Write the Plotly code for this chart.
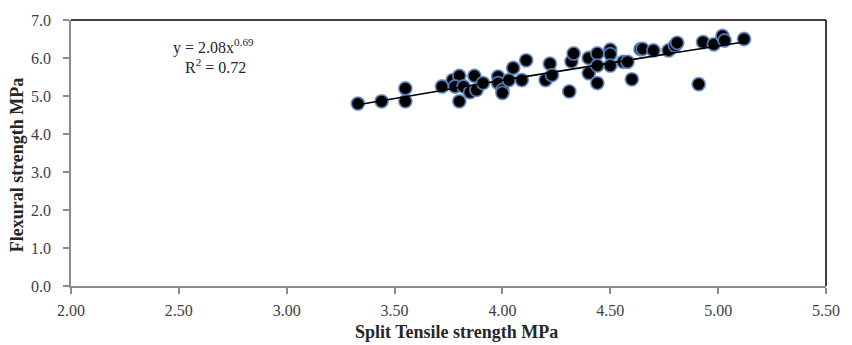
import plotly.graph_objects as go
import numpy as np

split_tensile = [3.33, 3.44, 3.55, 3.55, 3.72, 3.77, 3.80, 3.78, 3.80, 3.82, 3.85, 3.87, 3.88, 3.91,
                 3.98, 3.98, 4.00, 4.00, 4.03, 4.05, 4.09, 4.11, 4.20, 4.22, 4.23, 4.31, 4.32, 4.33,
                 4.40, 4.40, 4.44, 4.44, 4.44, 4.50, 4.50, 4.50, 4.56, 4.58, 4.60, 4.64, 4.65, 4.70,
                 4.77, 4.80, 4.81, 4.91, 4.93, 4.98, 5.02, 5.03, 5.12]
flexural = [4.80, 4.86, 5.20, 4.86, 5.25, 5.42, 5.53, 5.25, 4.86, 5.25, 5.10, 5.53, 5.16, 5.34,
            5.51, 5.34, 5.16, 5.08, 5.42, 5.74, 5.42, 5.94, 5.42, 5.85, 5.55, 5.12, 5.91, 6.12,
            6.00, 5.60, 5.34, 6.12, 5.80, 6.22, 6.10, 5.80, 5.90, 5.90, 5.44, 6.23, 6.24, 6.20,
            6.20, 6.33, 6.40, 5.31, 6.42, 6.36, 6.58, 6.46, 6.50]

# Power trendline y = a * x^b as shown on the chart
trend_a = 2.08
trend_b = 0.69
eq_text = "y = 2.08x<sup>0.69</sup>"
r2_text = "R<sup>2</sup> = 0.72"
x_title = "<b>Split Tensile strength MPa</b>"
y_title = "<b>Flexural strength MPa</b>"

x_ticks = [2.0, 2.5, 3.0, 3.5, 4.0, 4.5, 5.0, 5.5]
y_ticks = [0, 1, 2, 3, 4, 5, 6, 7]

tx = np.linspace(min(split_tensile), max(split_tensile), 100)
ty = trend_a * tx ** trend_b

serif = "Liberation Serif"

fig = go.Figure()
fig.add_trace(go.Scatter(
    x=split_tensile, y=flexural, mode="markers",
    marker=dict(size=13, color="black", line=dict(color="rgba(95,135,195,0.85)", width=1.8)),
    showlegend=False, hoverinfo="skip"))
fig.add_trace(go.Scatter(
    x=tx, y=ty, mode="lines", line=dict(color="black", width=1.6),
    showlegend=False, hoverinfo="skip"))

fig.update_layout(
    width=852, height=345,
    margin=dict(l=71, r=14, t=16, b=59),
    paper_bgcolor="white", plot_bgcolor="white",
    font=dict(family=serif, color="#404040", size=16),
    xaxis=dict(
        range=[2.0, 5.5], tickvals=x_ticks, ticktext=[f"{v:.2f}" for v in x_ticks],
        showgrid=False, zeroline=False, showline=True, linecolor="#8c8c8c", linewidth=1.5,
        ticks="outside", ticklen=6, tickcolor="#8c8c8c", tickwidth=1.5,
        tickfont=dict(family=serif, size=16, color="#404040"),
        ticklabelstandoff=3,
    ),
    yaxis=dict(
        range=[0, 7], tickvals=y_ticks, ticktext=[f"{v:.1f}" for v in y_ticks],
        showgrid=False, zeroline=False, showline=True, linecolor="#8c8c8c", linewidth=1.5,
        ticks="outside", ticklen=6, tickcolor="#8c8c8c", tickwidth=1.5,
        tickfont=dict(family=serif, size=16, color="#404040"),
        ticklabelstandoff=9,
    ),
    shapes=[
        dict(type="line", xref="paper", yref="paper", x0=0, x1=1, y0=1, y1=1,
             line=dict(color="black", width=1.5)),
        dict(type="line", xref="paper", yref="paper", x0=1, x1=1, y0=0, y1=1,
             line=dict(color="black", width=1.5)),
    ],
    annotations=[
        dict(text=eq_text, xref="paper", yref="paper", x=0.189, y=0.90, showarrow=False,
             xanchor="center", yanchor="middle", font=dict(family=serif, size=16, color="#262626")),
        dict(text=r2_text, xref="paper", yref="paper", x=0.191, y=0.826, showarrow=False,
             xanchor="center", yanchor="middle", font=dict(family=serif, size=16, color="#262626")),
        dict(text=x_title, xref="paper", yref="paper", x=0.511, y=-0.174, showarrow=False,
             xanchor="center", yanchor="middle", font=dict(family=serif, size=18, color="#262626")),
        dict(text=y_title, xref="paper", yref="paper", x=-0.072, y=0.456, showarrow=False,
             textangle=-90, xanchor="center", yanchor="middle",
             font=dict(family=serif, size=18, color="#262626")),
    ],
)

fig.write_html("out.html")
